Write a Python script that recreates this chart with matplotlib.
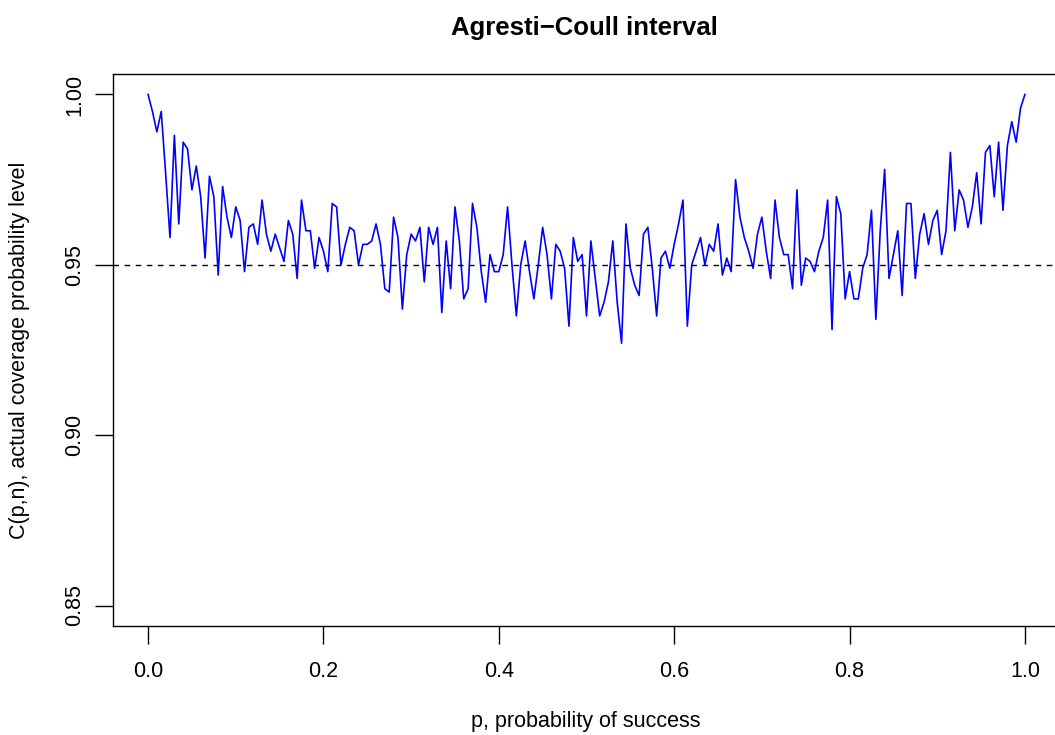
import numpy as np
import matplotlib.pyplot as plt

plt.rcParams['font.family'] = ['Liberation Sans', 'DejaVu Sans']

# p grid: 0, 0.005, ..., 1
p = np.linspace(0, 1, 201)

# coverage, in order of p
coverage = [
    1.000, 0.995, 0.989, 0.995, 0.977, 0.958, 0.988, 0.962, 0.986, 0.984,
    0.972, 0.979, 0.970, 0.952, 0.976, 0.970, 0.947, 0.973, 0.964, 0.958,
    0.967, 0.963, 0.948, 0.961, 0.962, 0.956, 0.969, 0.959, 0.954, 0.959,
    0.955, 0.951, 0.963, 0.959, 0.946, 0.969, 0.960, 0.960, 0.949, 0.958,
    0.954, 0.948, 0.968, 0.967, 0.950, 0.956, 0.961, 0.960, 0.950, 0.956,
    0.956, 0.957, 0.962, 0.956, 0.943, 0.942, 0.964, 0.958, 0.937, 0.953,
    0.959, 0.957, 0.961, 0.945, 0.961, 0.956, 0.961, 0.936, 0.957, 0.943,
    0.967, 0.957, 0.940, 0.943, 0.968, 0.961, 0.948, 0.939, 0.953, 0.948,
    0.948, 0.953, 0.967, 0.950, 0.935, 0.950, 0.957, 0.948, 0.940, 0.950,
    0.961, 0.953, 0.940, 0.956, 0.954, 0.949, 0.932, 0.958, 0.951, 0.953,
    0.935, 0.957, 0.946, 0.935, 0.939, 0.945, 0.957, 0.939, 0.927, 0.962,
    0.949, 0.944, 0.941, 0.959, 0.961, 0.949, 0.935, 0.952, 0.954, 0.949,
    0.956, 0.962, 0.969, 0.932, 0.950, 0.954, 0.958, 0.950, 0.956, 0.954,
    0.962, 0.947, 0.952, 0.948, 0.975, 0.964, 0.958, 0.954, 0.949, 0.959,
    0.964, 0.954, 0.946, 0.969, 0.958, 0.953, 0.953, 0.943, 0.972, 0.944,
    0.952, 0.951, 0.948, 0.954, 0.958, 0.969, 0.931, 0.970, 0.965, 0.940,
    0.948, 0.940, 0.940, 0.949, 0.953, 0.966, 0.934, 0.960, 0.978, 0.946,
    0.953, 0.960, 0.941, 0.968, 0.968, 0.946, 0.959, 0.965, 0.956, 0.963,
    0.966, 0.953, 0.960, 0.983, 0.960, 0.972, 0.969, 0.961, 0.967, 0.977,
    0.962, 0.983, 0.985, 0.970, 0.986, 0.966, 0.985, 0.992, 0.986, 0.996,
    1.000,
]

nominal = 0.95
xticks = [0.0, 0.2, 0.4, 0.6, 0.8, 1.0]
yticks = [0.85, 0.90, 0.95, 1.00]

W, H = 1055, 735
fig = plt.figure(figsize=(W / 100, H / 100), dpi=100)
# R-style plot region; right edge runs just past the image
ax = fig.add_axes([113 / W, (H - 626) / H, (1060 - 113) / W, (626 - 74) / H])

ax.plot(p, coverage, color='#0000FF', lw=1.2)
ax.axhline(nominal, color='black', lw=1.0, linestyle=(0, (4, 4)))

ax.set_xlim(-0.04, 1.04)
ax.set_ylim(0.844, 1.006)

ax.set_xticks(xticks)
ax.set_xticklabels(['%.1f' % v for v in xticks])
ax.set_yticks(yticks)
ax.set_yticklabels(['%.2f' % v for v in yticks], rotation=90, va='center')
ax.tick_params(direction='out', length=13, width=1, labelsize=15.5, pad=12)
ax.tick_params(axis='y', pad=7)
for s in ax.spines.values():
    s.set_linewidth(1.0)

fig.text(586 / W, 1 - 722 / H, 'p, probability of success', fontsize=15.5,
         ha='center', va='center')
fig.text(20 / W, 1 - 350 / H, 'C(p,n), actual coverage probability level',
         fontsize=15.5, rotation=90, ha='center', va='center')
fig.text(584 / W, 1 - 28 / H, 'Agresti\u2212Coull interval', fontsize=18.5,
         fontweight='bold', ha='center', va='center')

fig.savefig('out.png', dpi=100)
